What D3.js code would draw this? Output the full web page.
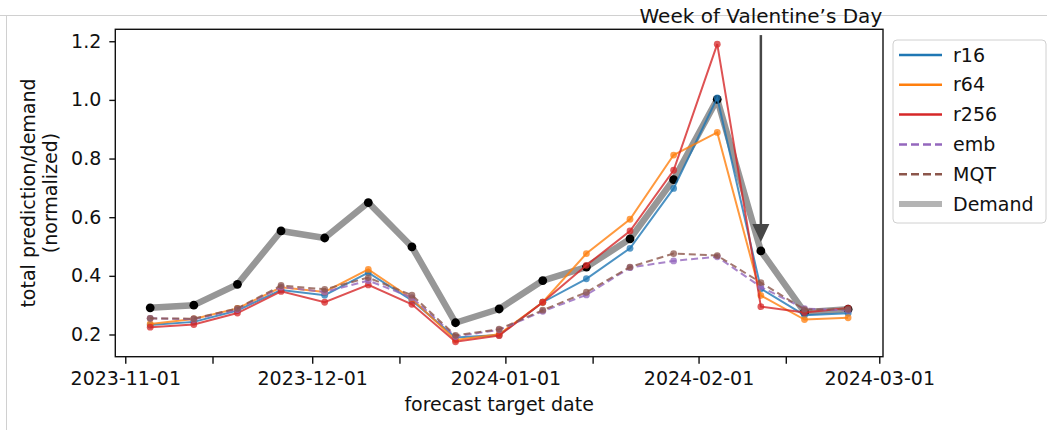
<!DOCTYPE html>
<html>
<head>
<meta charset="utf-8">
<script src="https://cdn.jsdelivr.net/npm/d3@7"></script>
<style>
  body { margin: 0; background: #fff; }
  text { font-family: "DejaVu Sans", sans-serif; fill: #111; }
</style>
</head>
<body>
<div id="chart"></div>
<script>
// weekly forecast target dates
const dates = ['2023-11-05', '2023-11-12', '2023-11-19', '2023-11-26', '2023-12-03', '2023-12-10',
  '2023-12-17', '2023-12-24', '2023-12-31', '2024-01-07', '2024-01-14', '2024-01-21',
  '2024-01-28', '2024-02-04', '2024-02-11', '2024-02-18', '2024-02-25'];

const r16 = [0.232, 0.243, 0.282, 0.352, 0.334, 0.411, 0.316, 0.190, 0.198, 0.310, 0.390, 0.494, 0.698, 1.007, 0.356, 0.266, 0.272];
const r64 = [0.236, 0.253, 0.289, 0.361, 0.345, 0.422, 0.322, 0.181, 0.201, 0.310, 0.476, 0.593, 0.812, 0.889, 0.333, 0.251, 0.257];
const r256 = [0.225, 0.234, 0.273, 0.347, 0.310, 0.369, 0.303, 0.175, 0.196, 0.310, 0.436, 0.553, 0.760, 1.190, 0.295, 0.275, 0.290];
const emb = [0.255, 0.252, 0.285, 0.362, 0.345, 0.384, 0.326, 0.193, 0.216, 0.279, 0.335, 0.428, 0.451, 0.465, 0.362, 0.288, 0.282];
const mqt = [0.255, 0.254, 0.289, 0.367, 0.354, 0.394, 0.334, 0.197, 0.218, 0.283, 0.344, 0.430, 0.476, 0.469, 0.377, 0.285, 0.286];
const demand = [0.291, 0.300, 0.371, 0.553, 0.529, 0.650, 0.499, 0.240, 0.287, 0.384, 0.430, 0.526, 0.728, 1.002, 0.485, 0.276, 0.286];

const xTicks = ['2023-11-01', '2023-12-01', '2024-01-01', '2024-02-01', '2024-03-01'];
const xMinorTicks = ['2023-11-15', '2023-12-15', '2024-01-15', '2024-02-15'];
const yTicks = [0.2, 0.4, 0.6, 0.8, 1.0, 1.2];

const annotationDate = '2024-02-11';
const annotationText = 'Week of Valentine\u2019s Day';
const arrowFrom = 1.221;
const arrowTo = 0.515;

const series = [
  { name: 'r16', values: r16, color: '#1f77b4', dash: null },
  { name: 'r64', values: r64, color: '#ff7f0e', dash: null },
  { name: 'r256', values: r256, color: '#d62728', dash: null },
  { name: 'emb', values: emb, color: '#9467bd', dash: '7,4' },
  { name: 'MQT', values: mqt, color: '#8c564b', dash: '7,4' }
];

const parse = d3.timeParse('%Y-%m-%d');
const dateVals = dates.map(parse);

const width = 1047;
const height = 430;
const margin = { top: 29.3, left: 115.3, right: 164, bottom: 73.3 };
const chartWidth = width - margin.left - margin.right;
const chartHeight = height - margin.top - margin.bottom;

const svg = d3.select('#chart')
  .append('svg')
  .attr('width', width)
  .attr('height', height);

// faint frame of the original figure
svg.append('line')
  .attr('x1', 0).attr('x2', width).attr('y1', 15.5).attr('y2', 15.5)
  .attr('stroke', '#d0d0d0').attr('stroke-width', 1);
svg.append('line')
  .attr('x1', 6.5).attr('x2', 6.5).attr('y1', 15.5).attr('y2', height)
  .attr('stroke', '#d0d0d0').attr('stroke-width', 1);

const chart = svg.append('g')
  .attr('transform', `translate(${margin.left},${margin.top})`);

// 5% padding like matplotlib
const [d0, d1] = d3.extent(dateVals);
const xPad = (d1 - d0) * 0.05;
const xScale = d3.scaleTime()
  .domain([new Date(+d0 - xPad), new Date(+d1 + xPad)])
  .range([0, chartWidth]);

const allVals = [].concat(r16, r64, r256, emb, mqt, demand);
const yMin = d3.min(allVals), yMax = d3.max(allVals);
const yPad = (yMax - yMin) * 0.05;
const yScale = d3.scaleLinear()
  .domain([yMin - yPad, yMax + yPad])
  .range([chartHeight, 0]);

const xAxis = d3.axisBottom(xScale)
  .tickValues(xTicks.map(parse))
  .tickFormat(d3.timeFormat('%Y-%m-%d'))
  .tickSize(7)
  .tickPadding(8);

chart.append('g')
  .classed('x axis', true)
  .attr('transform', `translate(0,${chartHeight})`)
  .call(xAxis);

chart.append('g')
  .classed('x minor', true)
  .attr('transform', `translate(0,${chartHeight})`)
  .call(d3.axisBottom(xScale).tickValues(xMinorTicks.map(parse)).tickFormat('').tickSize(7));

const yAxis = d3.axisLeft(yScale)
  .tickValues(yTicks)
  .tickFormat(d3.format('.1f'))
  .tickSize(6)
  .tickPadding(8);

chart.append('g')
  .classed('y axis', true)
  .call(yAxis);

chart.selectAll('.domain').remove();
chart.selectAll('.tick line').attr('stroke', '#111').attr('stroke-width', 1.4);
chart.selectAll('.tick text').style('font-size', '19px').attr('fill', '#111');

const line = d3.line()
  .x((d, i) => xScale(dateVals[i]))
  .y(d => yScale(d));

// demand underneath
chart.append('path')
  .datum(demand)
  .attr('d', line)
  .attr('fill', 'none')
  .attr('stroke', '#979797')
  .attr('stroke-width', 6.5)
  .attr('stroke-linejoin', 'round');

chart.selectAll('.demand-dot')
  .data(demand)
  .enter()
  .append('circle')
  .classed('demand-dot', true)
  .attr('cx', (d, i) => xScale(dateVals[i]))
  .attr('cy', d => yScale(d))
  .attr('r', 4.4)
  .attr('fill', '#000');

series.forEach(s => {
  chart.append('path')
    .datum(s.values)
    .attr('d', line)
    .attr('fill', 'none')
    .attr('stroke', s.color)
    .attr('stroke-width', 2)
    .attr('stroke-opacity', 0.8)
    .attr('stroke-dasharray', s.dash);

  chart.selectAll(`.dot-${s.name}`)
    .data(s.values)
    .enter()
    .append('circle')
    .attr('class', `dot-${s.name}`)
    .attr('cx', (d, i) => xScale(dateVals[i]))
    .attr('cy', d => yScale(d))
    .attr('r', 3.4)
    .attr('fill', s.color)
    .attr('fill-opacity', 0.75);
});

// spines
chart.append('rect')
  .attr('width', chartWidth)
  .attr('height', chartHeight)
  .attr('fill', 'none')
  .attr('stroke', '#111')
  .attr('stroke-width', 1.4);

// annotation arrow
const ax = xScale(parse(annotationDate));
const tipY = yScale(arrowTo);
const headLen = 18;
const headHalf = 8.5;
chart.append('line')
  .attr('x1', ax).attr('x2', ax)
  .attr('y1', yScale(arrowFrom)).attr('y2', tipY - headLen)
  .attr('stroke', '#474747')
  .attr('stroke-width', 2.5);
chart.append('path')
  .attr('d', `M${ax - headHalf},${tipY - headLen}L${ax + headHalf},${tipY - headLen}L${ax},${tipY}Z`)
  .attr('fill', '#474747');

svg.append('text')
  .attr('x', margin.left + ax)
  .attr('y', 23)
  .attr('text-anchor', 'middle')
  .style('font-size', '20px')
  .text(annotationText);

// axis labels
svg.append('text')
  .attr('x', margin.left + chartWidth / 2)
  .attr('y', 411)
  .attr('text-anchor', 'middle')
  .style('font-size', '19px')
  .text('forecast target date');

const yLabel = svg.append('text')
  .attr('transform', `translate(0,${margin.top + chartHeight / 2}) rotate(-90)`)
  .attr('text-anchor', 'middle')
  .style('font-size', '19px');
yLabel.append('tspan').attr('x', 0).attr('y', 35).text('total prediction/demand');
yLabel.append('tspan').attr('x', 0).attr('y', 57).text('(normalized)');

// legend
const legend = svg.append('g')
  .attr('transform', 'translate(893,40)');

legend.append('rect')
  .attr('width', 153)
  .attr('height', 183)
  .attr('rx', 4)
  .attr('fill', '#fff')
  .attr('fill-opacity', 0.8)
  .attr('stroke', '#d0d0d0')
  .attr('stroke-width', 1);

const legendItems = series.map(s => ({ name: s.name, color: s.color, dash: s.dash, w: 2.5 }))
  .concat([{ name: 'Demand', color: '#b4b4b4', dash: null, w: 6 }]);

const rows = legend.selectAll('.legend-row')
  .data(legendItems)
  .enter()
  .append('g')
  .classed('legend-row', true)
  .attr('transform', (d, i) => `translate(0,${15 + i * 29.8})`);

rows.append('line')
  .attr('x1', 6).attr('x2', 49)
  .attr('stroke', d => d.color)
  .attr('stroke-width', d => d.w)
  .attr('stroke-dasharray', d => d.dash ? '8,4' : null);

rows.append('text')
  .attr('x', 60)
  .attr('dy', '0.35em')
  .style('font-size', '19px')
  .text(d => d.name);
</script>
</body>
</html>
